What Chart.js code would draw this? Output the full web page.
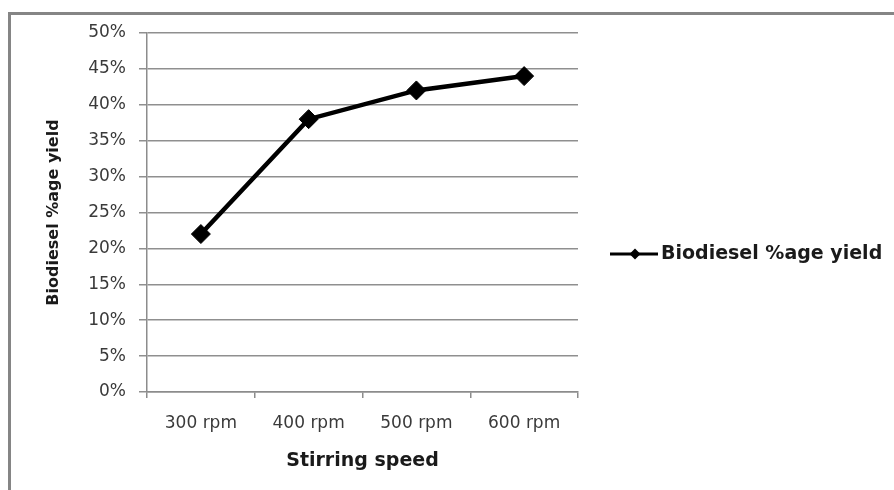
<!DOCTYPE html>
<html>
<head>
<meta charset="utf-8">
<style>
  html, body { margin: 0; padding: 0; background: #ffffff; overflow: hidden; }
  #frame {
    position: absolute; left: 8px; top: 12px; width: 900px; height: 500px;
    border-left: 3px solid #858585; border-top: 3px solid #858585;
  }
  #wrap { position: absolute; left: 0; top: 0; width: 894px; height: 490px; }
</style>
<script src="https://cdn.jsdelivr.net/npm/chart.js@4/dist/chart.umd.min.js"></script>
</head>
<body>
<div id="frame"></div>
<div id="wrap"><canvas id="chart" width="894" height="490"></canvas></div>
<script>
// Stirring speed categories and the measured biodiesel yield (%)
const speeds = ['300 rpm', '400 rpm', '500 rpm', '600 rpm'];
const yieldPct = [22, 38, 42, 44];
const seriesName = 'Biodiesel %age yield';
const xTitle = 'Stirring speed';
const yTitle = 'Biodiesel %age yield';

const FONT = '"DejaVu Sans", "Liberation Sans", sans-serif';

// Legend entry on the right: line with a diamond marker, then the series name
const sideLegend = {
  id: 'sideLegend',
  afterDraw(chart) {
    const ctx = chart.ctx;
    const ds = chart.data.datasets[0];
    const y = 254;
    ctx.save();
    ctx.strokeStyle = '#000000';
    ctx.lineWidth = 3;
    ctx.beginPath();
    ctx.moveTo(610, y);
    ctx.lineTo(658, y);
    ctx.stroke();
    const cx = 635, r = 5.5;
    ctx.fillStyle = '#000000';
    ctx.beginPath();
    ctx.moveTo(cx, y - r);
    ctx.lineTo(cx + r, y);
    ctx.lineTo(cx, y + r);
    ctx.lineTo(cx - r, y);
    ctx.closePath();
    ctx.fill();
    ctx.font = 'bold 19px ' + FONT;
    ctx.fillStyle = '#1a1a1a';
    ctx.textAlign = 'left';
    ctx.textBaseline = 'middle';
    ctx.fillText(ds.label, 661, y);
    ctx.restore();
  }
};

new Chart(document.getElementById('chart'), {
  type: 'line',
  data: {
    labels: speeds,
    datasets: [{
      label: seriesName,
      data: yieldPct,
      borderColor: '#000000',
      backgroundColor: '#000000',
      borderWidth: 4.5,
      pointStyle: 'rectRot',
      pointRadius: 9.5,
      pointHoverRadius: 9.5,
      pointBorderWidth: 1,
      tension: 0,
      fill: false
    }]
  },
  options: {
    responsive: false,
    animation: false,
    events: [],
    layout: { padding: { top: 33, right: 316, left: 0, bottom: 0 } },
    plugins: {
      legend: { display: false },
      tooltip: { enabled: false }
    },
    scales: {
      x: {
        offset: true,
        grid: {
          display: true,
          offset: true,
          drawOnChartArea: false,
          drawTicks: true,
          tickLength: 6,
          color: '#8c8c8c',
          lineWidth: 1.5
        },
        border: { display: true, color: '#8c8c8c', width: 1.5 },
        ticks: {
          color: '#3a3a3a',
          font: { family: FONT, size: 17 },
          padding: 15,
          maxRotation: 0
        },
        title: {
          display: true,
          text: xTitle,
          color: '#1a1a1a',
          font: { family: FONT, size: 19, weight: 'bold' },
          padding: { top: 0, bottom: 18 }
        },
        afterFit(scale) { scale.height = 98; }
      },
      y: {
        min: 0,
        max: 50,
        grid: {
          color: '#8f8f8f',
          lineWidth: 1.5,
          drawTicks: true,
          tickLength: 8
        },
        border: { display: true, color: '#8c8c8c', width: 1.5 },
        ticks: {
          stepSize: 5,
          color: '#3a3a3a',
          font: { family: FONT, size: 17 },
          padding: 13,
          callback: (v) => v + '%'
        },
        title: {
          display: true,
          text: yTitle,
          color: '#1a1a1a',
          font: { family: FONT, size: 16, weight: 'bold' },
          padding: { top: 44, bottom: 0 }
        },
        afterFit(scale) { scale.width = 147; }
      }
    }
  },
  plugins: [sideLegend]
});
</script>
</body>
</html>
